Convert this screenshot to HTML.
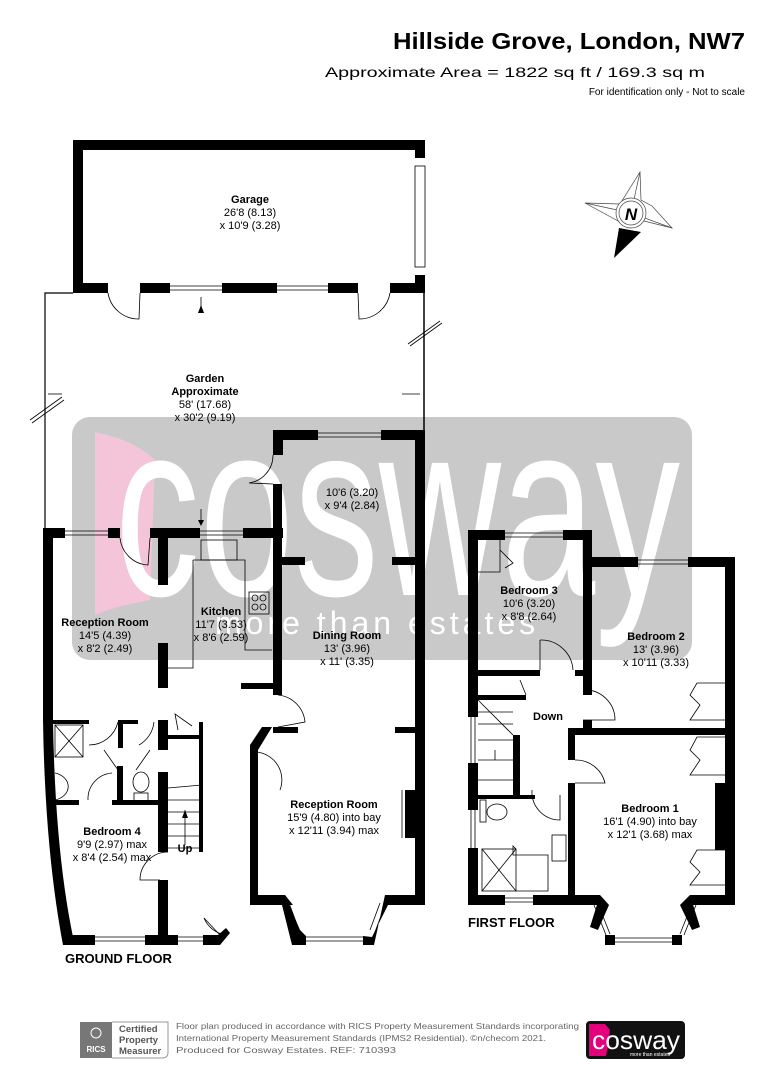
<!DOCTYPE html>
<html><head><meta charset="utf-8"><style>
html,body{margin:0;padding:0;background:#fff;}
svg{display:block;font-family:"Liberation Sans",Arial,sans-serif;}
</style></head><body>
<svg width="764" height="1080" viewBox="0 0 764 1080" xmlns="http://www.w3.org/2000/svg">
<!-- header -->
<text x="393" y="49" font-size="23" font-weight="bold" textLength="352" lengthAdjust="spacingAndGlyphs">Hillside Grove, London, NW7</text>
<text x="325" y="77" font-size="14" textLength="380" lengthAdjust="spacingAndGlyphs">Approximate Area = 1822 sq ft / 169.3 sq m</text>
<text x="745" y="95" text-anchor="end" font-size="10">For identification only - Not to scale</text>

<!-- compass -->
<g stroke="#444" stroke-width="0.7" fill="#fff">
<polygon points="640,172 641,200 652,206 672,228 644,221 631,228 585,203 620,204"/>
<line x1="640" y1="172" x2="631" y2="213"/><line x1="585" y1="203" x2="631" y2="213"/><line x1="672" y1="228" x2="631" y2="213"/>
<circle cx="631" cy="213" r="15"/><circle cx="631" cy="213" r="12"/>
</g>
<polygon points="614,258 619,228 641,232" fill="#000"/>
<text x="631" y="220" text-anchor="middle" font-size="17" font-weight="bold" font-style="italic">N</text>

<!-- watermark -->
<rect x="72" y="417" width="620" height="243" rx="18" fill="#c9c9c9"/>
<path d="M95,432 Q135,440 155,460 L150,600 Q120,605 95,615 Z" fill="#f4c4d8"/>
<text x="115" y="595" font-size="250" fill="#fff" textLength="565" lengthAdjust="spacingAndGlyphs">cosway</text>
<text x="215" y="634" font-size="32" fill="#fff" letter-spacing="4">more than estates</text>

<g fill="#000">
<!-- GARAGE -->
<rect x="73" y="140" width="352" height="10"/>
<rect x="73" y="140" width="10" height="153"/>
<rect x="415" y="140" width="10" height="18"/>
<rect x="415" y="275" width="10" height="18"/>
<rect x="73" y="283" width="35" height="10"/>
<rect x="140" y="283" width="30" height="10"/>
<rect x="222" y="283" width="55" height="10"/>
<rect x="328" y="283" width="30" height="10"/>
<rect x="390" y="283" width="35" height="10"/>
</g>
<g fill="none" stroke="#000" stroke-width="0.8">
<rect x="415" y="166" width="10" height="101"/>
<line x1="170" y1="286" x2="222" y2="286"/><line x1="170" y1="290" x2="222" y2="290"/>
<line x1="277" y1="286" x2="328" y2="286"/><line x1="277" y1="290" x2="328" y2="290"/>
<path d="M108,293 A31,31 0 0 0 139,319 L140,293"/>
<path d="M390,293 A31,31 0 0 1 359,319 L358,293"/>
<line x1="201" y1="313" x2="201" y2="297"/>
<polyline points="73,293 45,293 45,530" stroke-width="1.2"/>
<line x1="424" y1="293" x2="424" y2="430" stroke-width="1.5"/>
<line x1="30" y1="420" x2="62" y2="397"/><line x1="32" y1="423" x2="64" y2="400"/>
<line x1="408" y1="344" x2="440" y2="321"/><line x1="410" y1="346" x2="442" y2="323"/>
<line x1="48" y1="394" x2="62" y2="394"/><line x1="402" y1="394" x2="420" y2="394"/>
<line x1="318" y1="433" x2="381" y2="433"/><line x1="318" y1="437" x2="381" y2="437"/>
<path d="M273,455 A28,28 0 0 1 249,483 L273,484"/>
<line x1="65" y1="531" x2="108" y2="531"/><line x1="65" y1="535" x2="108" y2="535"/>
<line x1="200" y1="531" x2="243" y2="531"/><line x1="200" y1="535" x2="243" y2="535"/>
<path d="M120,538 A30,30 0 0 0 148,565 L150,538"/>
<line x1="201" y1="509" x2="201" y2="524"/>
<polyline points="193,560 245,560 245,650 272,650"/>
<polyline points="193,560 193,668 168,668"/>
<rect x="201" y="540" width="36" height="20"/>
<rect x="249" y="592" width="20" height="22"/>
<circle cx="255" cy="598" r="3"/><circle cx="263" cy="598" r="3"/><circle cx="255" cy="607" r="3"/><circle cx="263" cy="607" r="3"/>
<path d="M278,695 A30,30 0 0 1 305,722 L278,727"/>
<path d="M256,752 A28,28 0 0 1 280,790"/>
<line x1="306" y1="937" x2="363" y2="937"/><line x1="306" y1="941" x2="363" y2="941"/>
<line x1="284" y1="905" x2="294" y2="932"/><line x1="289" y1="903" x2="299" y2="930"/>
<line x1="385" y1="905" x2="375" y2="932"/><line x1="380" y1="903" x2="370" y2="930"/>
<line x1="402" y1="790" x2="402" y2="838"/>
<rect x="55" y="725" width="28" height="32"/>
<line x1="55" y1="725" x2="83" y2="757"/><line x1="83" y1="725" x2="55" y2="757"/>
<path d="M55,773 A18,14 0 0 1 55,800"/>
<path d="M88,800 A26,26 0 0 1 112,773"/>
<path d="M89,745 A30,30 0 0 0 118,722"/>
<path d="M139,745 A30,30 0 0 0 154,722"/>
<line x1="104" y1="750" x2="118" y2="770"/><line x1="150" y1="750" x2="136" y2="770"/>
<ellipse cx="141" cy="782" rx="8" ry="10"/><rect x="134" y="793" width="14" height="8"/>
<line x1="168" y1="788" x2="202" y2="785"/>
<line x1="168" y1="800" x2="202" y2="800"/><line x1="168" y1="812" x2="202" y2="812"/>
<line x1="168" y1="824" x2="202" y2="824"/><line x1="168" y1="836" x2="202" y2="836"/>
<line x1="168" y1="848" x2="202" y2="848"/>
<line x1="185" y1="845" x2="185" y2="810"/>
<path d="M168,852 A28,28 0 0 0 140,880 L160,880"/>
<path d="M178,730 L175,714 L192,726"/>
<path d="M204,918 A28,28 0 0 0 226,935"/>
<line x1="204" y1="918" x2="220" y2="935"/>
<line x1="95" y1="937" x2="145" y2="937"/><line x1="95" y1="941" x2="145" y2="941"/>
<line x1="178" y1="937" x2="203" y2="937"/><line x1="178" y1="941" x2="203" y2="941"/>
</g>
<g fill="#000">
<polygon points="198,313 201,305 204,313"/>
<polygon points="198,520 201,526 204,520"/>
<polygon points="182,818 185,810 188,818"/>
<rect x="273" y="430" width="45" height="10"/>
<rect x="381" y="430" width="44" height="10"/>
<rect x="273" y="430" width="10" height="25"/>
<rect x="273" y="484" width="9" height="211"/>
<rect x="415" y="430" width="10" height="475"/>
<rect x="282" y="557" width="23" height="8"/>
<rect x="392" y="557" width="23" height="8"/>
<rect x="273" y="727" width="25" height="6"/>
<rect x="395" y="727" width="20" height="6"/>
<polygon points="262,727 272,727 258,750 258,895 250,895 250,745"/>
<rect x="405" y="790" width="12" height="48"/>
<polygon points="250,895 285,895 293,905 260,905 250,905"/>
<polygon points="285,895 300,930 306,936 306,945 292,945 282,905"/>
<polygon points="385,895 425,895 425,905 388,905 372,937 363,936 363,945 374,945"/>
<rect x="43" y="528" width="22" height="10"/>
<rect x="108" y="528" width="12" height="10"/>
<rect x="150" y="528" width="50" height="10"/>
<rect x="243" y="528" width="40" height="10"/>
<rect x="158" y="538" width="10" height="47"/>
<rect x="158" y="643" width="10" height="45"/>
<rect x="241" y="683" width="32" height="6"/>
<path d="M43,528 L53,528 L53,720 Q55,850 73,937 L63,945 Q45,850 43,720 Z"/>
<rect x="63" y="935" width="32" height="10"/>
<rect x="145" y="935" width="33" height="10"/>
<polygon points="203,935 218,935 226,928 230,933 220,945 203,945"/>
<rect x="53" y="720" width="36" height="4"/>
<rect x="118" y="722" width="5" height="26"/>
<rect x="118" y="720" width="20" height="4"/>
<rect x="158" y="720" width="10" height="30"/>
<rect x="168" y="735" width="35" height="4"/>
<rect x="199" y="722" width="4" height="130"/>
<rect x="117" y="766" width="6" height="38"/>
<rect x="158" y="772" width="10" height="80"/>
<rect x="158" y="880" width="10" height="55"/>
<rect x="53" y="800" width="26" height="5"/>
<rect x="112" y="800" width="56" height="5"/>
<!-- FIRST FLOOR -->
<rect x="468" y="530" width="37" height="10"/>
<rect x="563" y="530" width="29" height="10"/>
<rect x="468" y="530" width="10" height="187"/>
<rect x="468" y="763" width="10" height="47"/>
<rect x="468" y="848" width="10" height="57"/>
<rect x="583" y="530" width="9" height="165"/>
<rect x="583" y="557" width="55" height="10"/>
<rect x="688" y="557" width="47" height="10"/>
<rect x="725" y="557" width="10" height="348"/>
<rect x="715" y="783" width="20" height="67"/>
<rect x="478" y="670" width="62" height="6"/>
<rect x="575" y="670" width="15" height="6"/>
<rect x="583" y="720" width="9" height="15"/>
<rect x="568" y="728" width="167" height="7"/>
<rect x="568" y="728" width="7" height="32"/>
<rect x="568" y="783" width="7" height="122"/>
<rect x="468" y="895" width="37" height="10"/>
<rect x="533" y="895" width="67" height="10"/>
<rect x="690" y="895" width="45" height="10"/>
<rect x="478" y="795" width="57" height="4"/>
<rect x="513" y="735" width="7" height="60"/>
<rect x="478" y="695" width="48" height="5"/>
<polygon points="600,895 609,905 598,930 590,927"/>
<polygon points="690,895 680,905 692,930 700,927"/>
<rect x="605" y="935" width="10" height="10"/>
<rect x="672" y="935" width="10" height="10"/>
</g>
<g fill="none" stroke="#000" stroke-width="0.8">
<line x1="505" y1="533" x2="563" y2="533"/><line x1="505" y1="537" x2="563" y2="537"/>
<line x1="638" y1="560" x2="688" y2="560"/><line x1="638" y1="564" x2="688" y2="564"/>
<line x1="471" y1="717" x2="471" y2="763"/><line x1="475" y1="717" x2="475" y2="763"/>
<line x1="471" y1="810" x2="471" y2="848"/><line x1="475" y1="810" x2="475" y2="848"/>
<line x1="505" y1="898" x2="533" y2="898"/><line x1="505" y1="902" x2="533" y2="902"/>
<line x1="615" y1="938" x2="672" y2="938"/><line x1="615" y1="942" x2="672" y2="942"/>
<polyline points="478,572 500,572 500,540"/>
<path d="M500,550 L513,563 L505,568"/>
<path d="M540,640 L540,670 M540,640 A32,32 0 0 1 573,670"/>
<path d="M583,690 A30,30 0 0 1 615,720 L583,720"/>
<path d="M575,760 A30,30 0 0 1 605,783 L575,783"/>
<path d="M532,790 A28,28 0 0 0 560,820 L560,795"/>
<path d="M520,680 L526,695"/>
<line x1="478" y1="700" x2="513" y2="735"/>
<line x1="478" y1="712" x2="513" y2="712"/><line x1="478" y1="724" x2="513" y2="724"/>
<line x1="478" y1="740" x2="513" y2="740"/><line x1="478" y1="760" x2="513" y2="760"/>
<line x1="478" y1="780" x2="513" y2="780"/>
<line x1="495" y1="750" x2="495" y2="760"/>
<ellipse cx="497" cy="812" rx="10" ry="8"/><rect x="480" y="800" width="6" height="22"/>
<rect x="482" y="849" width="34" height="42"/>
<line x1="482" y1="849" x2="516" y2="891"/><line x1="516" y1="849" x2="482" y2="891"/>
<polyline points="516,849 513,846 513,855 548,855 548,891 516,891"/>
<rect x="552" y="835" width="14" height="26"/>
<polyline points="725,683 697,683 690,695 700,705 690,720 725,720"/>
<polyline points="725,737 697,737 690,750 700,760 690,775 725,775"/>
<polyline points="725,850 697,850 690,862 700,872 690,885 725,885"/>
<line x1="594" y1="905" x2="606" y2="935"/><line x1="598" y1="904" x2="610" y2="934"/>
<line x1="696" y1="905" x2="684" y2="935"/><line x1="692" y1="904" x2="680" y2="934"/>
</g>

<g font-size="11" text-anchor="middle">
<text x="250" y="203" font-weight="bold">Garage</text>
<text x="250" y="216">26'8 (8.13)</text>
<text x="250" y="229">x 10'9 (3.28)</text>
<text x="205" y="382" font-weight="bold">Garden</text>
<text x="205" y="395" font-weight="bold">Approximate</text>
<text x="205" y="408">58' (17.68)</text>
<text x="205" y="421">x 30'2 (9.19)</text>
<text x="352" y="496">10'6 (3.20)</text>
<text x="352" y="509">x 9'4 (2.84)</text>
<text x="105" y="626" font-weight="bold">Reception Room</text>
<text x="105" y="639">14'5 (4.39)</text>
<text x="105" y="652">x 8'2 (2.49)</text>
<text x="221" y="615" font-weight="bold">Kitchen</text>
<text x="221" y="628">11'7 (3.53)</text>
<text x="221" y="641">x 8'6 (2.59)</text>
<text x="347" y="639" font-weight="bold">Dining Room</text>
<text x="347" y="652">13' (3.96)</text>
<text x="347" y="665">x 11' (3.35)</text>
<text x="334" y="808" font-weight="bold">Reception Room</text>
<text x="334" y="821">15'9 (4.80) into bay</text>
<text x="334" y="834">x 12'11 (3.94) max</text>
<text x="112" y="835" font-weight="bold">Bedroom 4</text>
<text x="112" y="848">9'9 (2.97) max</text>
<text x="112" y="861">x 8'4 (2.54) max</text>
<text x="185" y="852" font-weight="bold">Up</text>
<text x="529" y="594" font-weight="bold">Bedroom 3</text>
<text x="529" y="607">10'6 (3.20)</text>
<text x="529" y="620">x 8'8 (2.64)</text>
<text x="656" y="640" font-weight="bold">Bedroom 2</text>
<text x="656" y="653">13' (3.96)</text>
<text x="656" y="666">x 10'11 (3.33)</text>
<text x="548" y="720" font-weight="bold">Down</text>
<text x="650" y="812" font-weight="bold">Bedroom 1</text>
<text x="650" y="825">16'1 (4.90) into bay</text>
<text x="650" y="838">x 12'1 (3.68) max</text>
</g>
<text x="65" y="963" font-size="13" font-weight="bold">GROUND FLOOR</text>
<text x="468" y="927" font-size="13" font-weight="bold">FIRST FLOOR</text>

<rect x="80" y="1022" width="32" height="36" fill="#777"/>
<text x="96" y="1052" font-size="8" fill="#fff" text-anchor="middle" font-weight="bold">RICS</text>
<circle cx="96" cy="1033" r="5" fill="none" stroke="#fff" stroke-width="1"/>
<path d="M112,1022 L168,1022 L168,1052 Q168,1058 162,1058 L112,1058" fill="none" stroke="#999"/>
<g font-size="9.5" fill="#555" font-weight="bold"><text x="119" y="1032">Certified</text><text x="119" y="1043">Property</text><text x="119" y="1054">Measurer</text></g>
<g font-size="8.5" fill="#666"><text x="176" y="1029" textLength="403" lengthAdjust="spacingAndGlyphs">Floor plan produced in accordance with RICS Property Measurement Standards incorporating</text>
<text x="176" y="1041" textLength="370" lengthAdjust="spacingAndGlyphs">International Property Measurement Standards (IPMS2 Residential).   ©n/checom 2021.</text>
<text x="176" y="1053" textLength="220" lengthAdjust="spacingAndGlyphs">Produced for Cosway Estates.   REF: 710393</text></g>
<rect x="586" y="1021" width="99" height="38" rx="4" fill="#111"/>
<polygon points="589,1024 605,1024 610,1030 606,1056 589,1056" fill="#e5007e"/>
<text x="636" y="1049" font-size="26" fill="#fff" text-anchor="middle" textLength="88" lengthAdjust="spacingAndGlyphs">cosway</text>
<text x="650" y="1056" font-size="5" fill="#fff" text-anchor="middle">more than estates</text>
</svg>
</body></html>
